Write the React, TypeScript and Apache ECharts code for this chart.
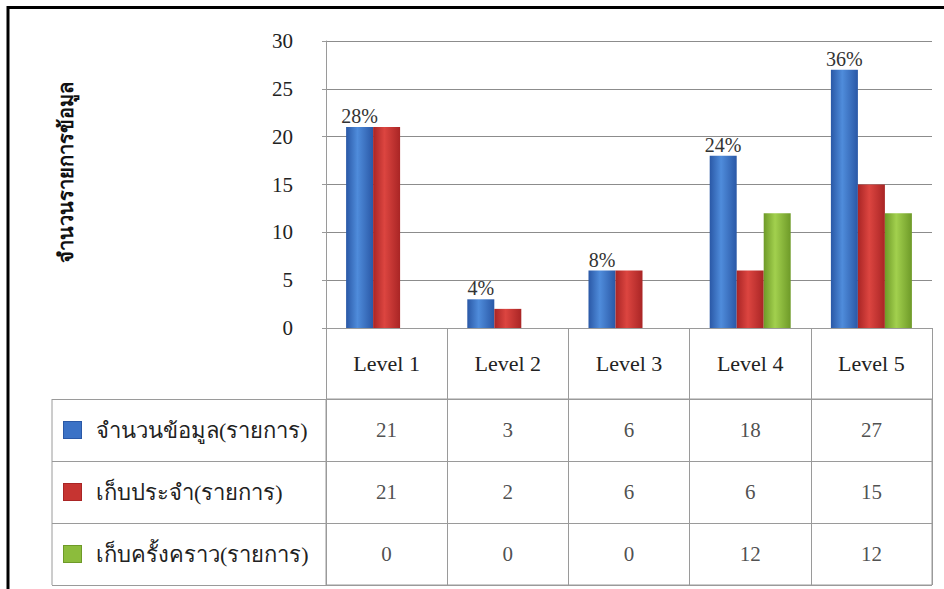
import React, { useEffect, useRef } from 'react';
import * as echarts from 'echarts';

const categories = ['Level 1', 'Level 2', 'Level 3', 'Level 4', 'Level 5'];
const seriesNames = ['จำนวนข้อมูล(รายการ)', 'เก็บประจำ(รายการ)', 'เก็บครั้งคราว(รายการ)'];
const totalItems = [21, 3, 6, 18, 27];
const regularItems = [21, 2, 6, 6, 15];
const occasionalItems = [0, 0, 0, 12, 12];
const yAxisTitle = 'จำนวนรายการข้อมูล';
const yMin = 0;
const yMax = 30;
const yStep = 5;

const FONT = "'Liberation Serif', 'Times New Roman', serif";
const W = 944;
const H = 589;
const GRID_LEFT = 326;
const GRID_RIGHT_X = 932;
const PLOT_TOP = 41;
const PLOT_BOTTOM = 328;
const TABLE_TOP = 399;
const TABLE_BOTTOM = 585;
const LEGEND_LEFT = 52;
const BORDER = '#9a9a9a';

const palette = [
  { edge: '#2a58a6', mid: '#4f8cdb', icon: '#3b72c6' },
  { edge: '#a92525', mid: '#dc4540', icon: '#c63431' },
  { edge: '#6e9a28', mid: '#a2d04e', icon: '#8cbc3c' },
];

const grad = (c: { edge: string; mid: string }) =>
  new echarts.graphic.LinearGradient(0, 0, 1, 0, [
    { offset: 0, color: c.edge },
    { offset: 0.42, color: c.mid },
    { offset: 1, color: c.edge },
  ]);

export default function App() {
  const ref = useRef<HTMLDivElement>(null);
  useEffect(() => {
    if (!ref.current) return;
    const chart = echarts.init(ref.current, undefined, { renderer: 'svg' });
    const rows = [totalItems, regularItems, occasionalItems];
    const sumTotal = totalItems.reduce((a, b) => a + b, 0);
    const tableData = rows.flatMap((arr, r) => arr.map((v, i) => [i, r, v]));
    const rich: any = {
      t: { fontSize: 22, fontFamily: FONT, color: '#222', padding: [0, 0, 0, 15] },
    };
    palette.forEach((c, i) => {
      rich['i' + i] = {
        width: 17,
        height: 16,
        backgroundColor: c.icon,
        borderColor: c.edge,
        borderWidth: 1,
      };
    });

    chart.setOption({
      animation: false,
      backgroundColor: '#fff',
      textStyle: { fontFamily: FONT },
      grid: [
        {
          left: GRID_LEFT,
          right: W - GRID_RIGHT_X,
          top: PLOT_TOP,
          bottom: H - PLOT_BOTTOM,
        },
        {
          left: GRID_LEFT,
          right: W - GRID_RIGHT_X,
          top: TABLE_TOP,
          bottom: H - TABLE_BOTTOM,
          show: true,
          borderColor: BORDER,
          borderWidth: 1,
        },
      ],
      xAxis: [
        {
          type: 'category',
          gridIndex: 0,
          data: categories,
          axisLine: { show: true, lineStyle: { color: BORDER } },
          axisTick: { show: true, length: TABLE_TOP - PLOT_BOTTOM, lineStyle: { color: BORDER } },
          axisLabel: { margin: 24, fontSize: 22, color: '#222', fontFamily: FONT },
        },
        {
          type: 'category',
          gridIndex: 1,
          data: categories,
          position: 'top',
          axisLine: { show: true, lineStyle: { color: BORDER } },
          axisTick: { show: false },
          axisLabel: { show: false },
          splitLine: { show: true, lineStyle: { color: BORDER } },
        },
      ],
      yAxis: [
        {
          type: 'value',
          gridIndex: 0,
          min: yMin,
          max: yMax,
          interval: yStep,
          name: yAxisTitle,
          nameLocation: 'middle',
          nameGap: 250,
          nameTextStyle: {
            fontSize: 20,
            fontWeight: 'bold',
            color: '#111',
            fontFamily: FONT,
            padding: [0, 0, 0, 24],
          },
          axisLine: { show: true, lineStyle: { color: BORDER } },
          axisTick: { show: true, length: 4, lineStyle: { color: BORDER } },
          axisLabel: { margin: 33, fontSize: 21, color: '#222', fontFamily: FONT },
          splitLine: { show: true, lineStyle: { color: '#8c8c8c' } },
        },
        {
          type: 'category',
          gridIndex: 1,
          data: seriesNames,
          inverse: true,
          axisLine: { show: true, lineStyle: { color: BORDER } },
          axisTick: { show: true, length: GRID_LEFT - LEGEND_LEFT, lineStyle: { color: BORDER } },
          axisLabel: {
            margin: GRID_LEFT - LEGEND_LEFT - 12,
            align: 'left',
            formatter: (v: string, idx: number) => `{i${idx}|}{t|${v}}`,
            rich,
          },
          splitLine: { show: true, lineStyle: { color: BORDER } },
        },
      ],
      series: [
        ...rows.map((arr, s) => ({
          type: 'bar',
          name: seriesNames[s],
          xAxisIndex: 0,
          yAxisIndex: 0,
          data: arr,
          barWidth: 27,
          barGap: '0%',
          itemStyle: { color: grad(palette[s]) },
          label:
            s === 0
              ? {
                  show: true,
                  position: 'top',
                  distance: 1,
                  fontSize: 20,
                  color: '#333',
                  fontFamily: FONT,
                  formatter: (p: any) => Math.round((p.value / sumTotal) * 100) + '%',
                }
              : { show: false },
        })),
        {
          type: 'scatter',
          xAxisIndex: 1,
          yAxisIndex: 1,
          data: tableData,
          symbolSize: 1,
          itemStyle: { color: 'rgba(0,0,0,0)' },
          label: {
            show: true,
            position: 'inside',
            fontSize: 21,
            color: '#222',
            fontFamily: FONT,
            formatter: (p: any) => String(p.value[2]),
          },
        },
      ],
      graphic: [
        {
          type: 'line',
          shape: { x1: 7, y1: 7.5, x2: W, y2: 7.5 },
          style: { stroke: '#000', lineWidth: 3 },
        },
        {
          type: 'line',
          shape: { x1: 8, y1: 6, x2: 8, y2: H },
          style: { stroke: '#000', lineWidth: 3 },
        },
        {
          type: 'line',
          shape: { x1: LEGEND_LEFT, y1: TABLE_TOP, x2: LEGEND_LEFT, y2: TABLE_BOTTOM },
          style: { stroke: BORDER, lineWidth: 1 },
        },
      ],
    });
    return () => chart.dispose();
  }, []);
  return (
    <div
      ref={ref}
      style={{ position: 'fixed', left: 0, top: 0, width: W, height: H, background: '#fff' }}
    />
  );
}
